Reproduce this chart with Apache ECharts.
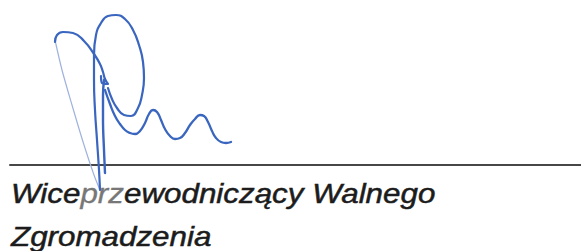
<!DOCTYPE html>
<html><head><meta charset="utf-8">
<script src="https://cdn.jsdelivr.net/npm/echarts@6/dist/echarts.min.js"></script>
<style>html,body{margin:0;padding:0;background:#fff}#c{width:581px;height:251px}</style>
</head><body><div id="c"></div>
<script>
// Signature strokes, [x, y] in page pixels (y grows downward)
var hookStroke = [[55,42],[57,35],[63,32],[73,33],[84,41],[94,54],[100,64],[103,72],[105,79],[108,84],[102,83],[101,76]];
var faintStroke = [[55,40],[62,70],[72,105],[84,145],[94,175],[100,190]];
var loopStroke = [[100,190],[99,170],[97,140],[95,110],[94,80],[94,55],[96,35],[101,23],[108,16],[116,15],[125,19],[133,30],[139,45],[143,62],[144,78],[142,95],[138,108],[131,116],[124,115],[117,108],[112,99],[108,88]];
var stemStroke = [[105,173],[104,150],[103,120],[103,95],[104,80]];
var waveStroke = [[105,90],[110,104],[115,116],[120,124],[125,130],[130,133],[135,134],[140,131],[145,123],[149,114],[153,110],[157,112],[161,120],[165,129],[170,136],[175,139],[180,138],[185,133],[190,125],[195,119],[200,115],[204,116],[208,122],[212,131],[216,138],[221,142],[226,143],[231,142]];
var ruleLine = [[10,165],[581,165]];
var captionLine1 = ['Wice', 'prz', 'ewodniczący Walnego'];
var captionLine2 = 'Zgromadzenia';

var chart = echarts.init(document.getElementById('c'), null, {renderer:'svg'});
var ink = '#3a66bf';
function stroke(data, color, width, smooth){
  return {type:'line', data:data, showSymbol:false, smooth:smooth, silent:true, animation:false,
    lineStyle:{color:color, width:width, cap:'round', join:'round'}};
}
var fontBase = {fontStyle:'italic', fontSize:28, fontFamily:'"Liberation Sans", Arial, sans-serif'};
chart.setOption({
  animation:false,
  grid:{left:0,right:0,top:0,bottom:0},
  xAxis:{type:'value', min:0, max:581, show:false},
  yAxis:{type:'value', min:0, max:251, inverse:true, show:false},
  series:[
    stroke(ruleLine, '#474747', 2, false),
    stroke(faintStroke, '#9fb2dd', 1.2, 0.3),
    stroke(hookStroke, ink, 2.2, 0.5),
    stroke(loopStroke, ink, 2.2, 0.5),
    stroke(stemStroke, ink, 2.4, 0.4),
    stroke(waveStroke, ink, 2.3, 0.5)
  ],
  graphic:[
    {type:'text', x:11, y:193, scaleX:1.12, silent:true,
      style:Object.assign({text: captionLine1[0] + '{g|' + captionLine1[1] + '}' + captionLine1[2],
        fill:'#1c1c1c', stroke:'#1c1c1c', lineWidth:0.5, verticalAlign:'middle',
        rich:{g:Object.assign({fill:'#777', stroke:'#777', lineWidth:0.3}, fontBase)}}, fontBase)},
    {type:'text', x:11, y:236, scaleX:1.12, silent:true,
      style:Object.assign({text: captionLine2, fill:'#1c1c1c', stroke:'#1c1c1c', lineWidth:0.5, verticalAlign:'middle'}, fontBase)}
  ]
});
</script></body></html>
